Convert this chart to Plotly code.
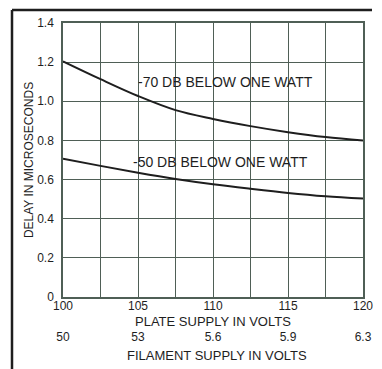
import plotly.graph_objects as go

# Tensão de placa (V) e atraso (microssegundos)
plate_volts = [100, 102.5, 105, 107.5, 110, 112.5, 115, 117.5, 120]
delay_70db = [1.204, 1.113, 1.027, 0.955, 0.910, 0.873, 0.842, 0.817, 0.800]
delay_50db = [0.706, 0.670, 0.635, 0.603, 0.576, 0.553, 0.532, 0.515, 0.503]

plate_ticks = [100, 105, 110, 115, 120]
filament_labels = ["50", "53", "5.6", "5.9", "6.3"]
y_ticks = [0, 0.2, 0.4, 0.6, 0.8, 1.0, 1.2, 1.4]
y_labels = ["0", "0.2", "0.4", "0.6", "0.8", "1.0", "1.2", "1.4"]

# a página tem margem de 8 px no body: a figura é menor e deslocada
W, H = 374, 361
OFF = 8
def px(x):
    return (x - OFF) / W
def py(y):
    return 1 - (y - OFF) / H

grid_col = "#4f5f56"
ink = "#1e1e1e"
fam = "Liberation Sans"
f_big = dict(family=fam, size=14, color=ink)
f_title = dict(family=fam, size=13, color=ink)
f_tick = dict(family=fam, size=12, color=ink)
f_y = dict(family=fam, size=12, color=ink)

fig = go.Figure()
fig.add_trace(go.Scatter(x=plate_volts, y=delay_70db, mode="lines", line=dict(color=ink, width=2, shape="spline")))
fig.add_trace(go.Scatter(x=plate_volts, y=delay_50db, mode="lines", line=dict(color=ink, width=2, shape="spline")))

fig.update_layout(
    width=W, height=H,
    margin=dict(l=0, r=0, t=0, b=0),
    plot_bgcolor="white", paper_bgcolor="white",
    showlegend=False,
    font=f_big,
    xaxis=dict(domain=[px(63), px(363)], range=[100, 120], tickvals=plate_ticks,
               ticktext=[str(v) for v in plate_ticks], tickfont=f_tick, ticklabelstandoff=-3,
               showgrid=True, gridcolor=grid_col, gridwidth=1.2,
               minor=dict(tickvals=[102.5, 107.5, 112.5, 117.5], showgrid=True, gridcolor=grid_col, gridwidth=1.2),
               showline=True, linecolor=grid_col, linewidth=1.5, mirror=True,
               zeroline=False, ticks="", anchor="y", automargin=False),
    xaxis2=dict(overlaying="x", range=[100, 120], tickvals=plate_ticks, ticktext=filament_labels,
                tickfont=f_tick, anchor="free", position=py(331), side="bottom", ticklabelstandoff=-3,
                showgrid=False, showline=False, zeroline=False, ticks="", automargin=False),
    yaxis=dict(domain=[py(297), py(23)], range=[0, 1.4], tickvals=y_ticks, ticktext=y_labels, tickfont=f_y,
               ticklabelstandoff=5,
               showgrid=True, gridcolor=grid_col, gridwidth=1.2,
               showline=True, linecolor=grid_col, linewidth=1.5, mirror=True,
               zeroline=False, ticks="", automargin=False,
               title=dict(text="DELAY IN MICROSECONDS", standoff=1, font=f_y)),
)

# Trace invisível para ativar o segundo eixo x
fig.add_trace(go.Scatter(x=[100, 120], y=[0, 0], xaxis="x2", mode="markers", marker=dict(opacity=0), hoverinfo="skip"))

fig.add_annotation(x=110.8, y=1.097, text="-70 DB BELOW ONE WATT", showarrow=False, font=f_big)
fig.add_annotation(x=110.5, y=0.692, text="-50 DB BELOW ONE WATT", showarrow=False, font=f_big)

# Títulos dos eixos x
fig.add_annotation(xref="paper", yref="paper", x=px(213), y=py(321), text="PLATE SUPPLY IN VOLTS",
                   showarrow=False, font=f_title, yanchor="middle")
fig.add_annotation(xref="paper", yref="paper", x=px(217), y=py(355), text="FILAMENT SUPPLY IN VOLTS",
                   showarrow=False, font=f_title, yanchor="middle")

# Moldura (esquerda e topo)
fig.add_shape(type="line", xref="paper", yref="paper", x0=px(12), x1=px(12), y0=0, y1=py(10), line=dict(color=ink, width=2.5))
fig.add_shape(type="line", xref="paper", yref="paper", x0=px(12), x1=px(372), y0=py(10), y1=py(10), line=dict(color=ink, width=2.5))

fig.write_html("out.html")
